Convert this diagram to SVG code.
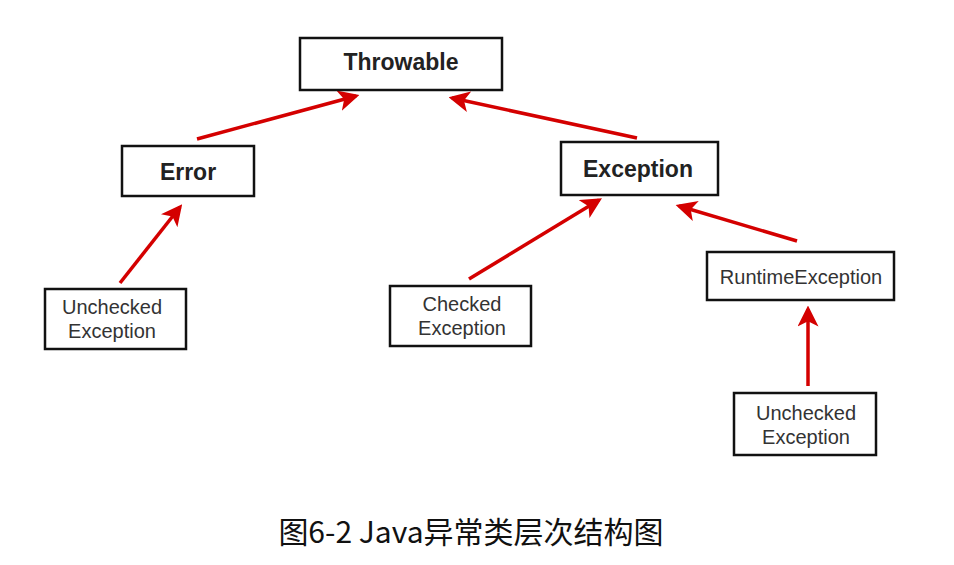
<svg xmlns="http://www.w3.org/2000/svg" width="954" height="565" viewBox="0 0 954 565">
<style>
.box{fill:#fff;stroke:#111;stroke-width:2.5}
.big{font-family:"Liberation Sans",Arial,sans-serif;font-size:23px;font-weight:bold;fill:#222;text-anchor:middle}
.sm{font-family:"Liberation Sans",Arial,sans-serif;font-size:20px;fill:#333;text-anchor:middle}
.cap{font-family:"Noto Sans CJK SC","Noto Sans",sans-serif;font-size:30px;fill:#111;text-anchor:middle}
.arr{stroke:#d40000;stroke-width:3.5;fill:none;marker-end:url(#ah)}
</style>
<defs>
<marker id="ah" markerWidth="6" markerHeight="6" refX="5" refY="3" orient="auto" markerUnits="strokeWidth">
<path d="M0,0 L6,3 L0,6 L1.5,3 Z" fill="#d40000"/>
</marker>
</defs>
<rect width="954" height="565" fill="#fff"/>
<g id="connectors">
<line class="arr" x1="197" y1="139" x2="356" y2="96"/>
<line class="arr" x1="637" y1="138" x2="452" y2="98"/>
<line class="arr" x1="120" y1="283" x2="180" y2="207"/>
<line class="arr" x1="469" y1="279" x2="599" y2="200"/>
<line class="arr" x1="797" y1="241" x2="679" y2="206"/>
<line class="arr" x1="808" y1="386" x2="808" y2="309"/>
</g>
<g id="throwable"><rect class="box" x="300" y="38" width="202" height="52"/><text class="big" x="401" y="70">Throwable</text></g>
<g id="error"><rect class="box" x="122" y="146" width="132" height="50"/><text class="big" x="188" y="180">Error</text></g>
<g id="exception"><rect class="box" x="561" y="142" width="157" height="53"/><text class="big" x="638" y="177">Exception</text></g>
<g id="unchecked1"><rect class="box" x="45" y="289" width="141" height="60"/><text class="sm" x="112" y="314">Unchecked</text><text class="sm" x="112" y="338">Exception</text></g>
<g id="checked"><rect class="box" x="390" y="286" width="141" height="60"/><text class="sm" x="462" y="311">Checked</text><text class="sm" x="462" y="335">Exception</text></g>
<g id="runtime"><rect class="box" x="707" y="252" width="187" height="48"/><text class="sm" x="801" y="284">RuntimeException</text></g>
<g id="unchecked2"><rect class="box" x="734" y="393" width="142" height="62"/><text class="sm" x="806" y="420">Unchecked</text><text class="sm" x="806" y="444">Exception</text></g>
<text class="cap" x="471" y="543">图6-2 Java异常类层次结构图</text>
</svg>
